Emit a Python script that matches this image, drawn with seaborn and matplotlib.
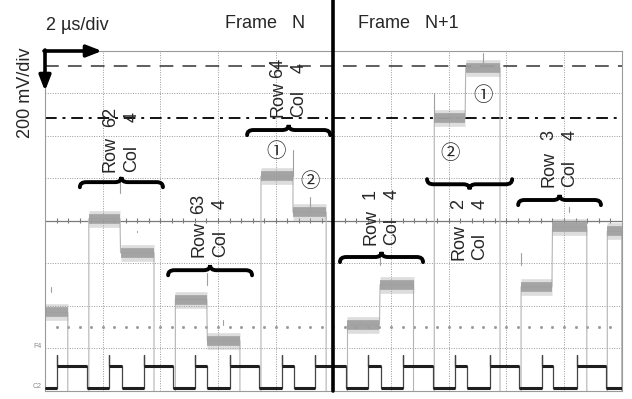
import numpy as np
import pandas as pd
import matplotlib
matplotlib.use('Agg')
import matplotlib.pyplot as plt
from matplotlib.path import Path
from matplotlib.patches import PathPatch
import seaborn as sns

# scope: 2 us/div, 200 mV/div, 10 x 8 divisions
t_max = 20.0
v_max = 800.0

# gray trace (F4): flat steps, times in us, levels in mV
seg_start = [0.00, 1.52, 2.62, 4.52, 5.63, 7.49, 8.60, 10.49, 11.62, 13.50, 14.59, 16.51, 17.60, 19.50]
seg_end = [0.79, 2.60, 3.78, 5.61, 6.76, 8.60, 9.75, 11.60, 12.78, 14.57, 15.78, 17.58, 18.79, 20.00]
seg_level = [-430, 10, -150, -370, -565, 210, 40, -490, -300, 485, 720, -310, -30, -50]

# short spikes on the gray trace
spike_t = [0.21, 2.60, 3.20, 5.61, 6.18, 8.61, 9.19, 11.62, 13.50, 15.19, 16.51, 18.16]
spike_v = [-334, 129, -51, -247, -467, 333, 113, -208, 600, 790, -208, 66]

# black trace (C2): clock edges in us, levels in mV
clk_rise = [0.43, 2.23, 3.43, 5.20, 6.42, 8.21, 9.37, 11.21, 12.43, 14.22, 15.44, 17.23, 18.44]
clk_fall = [1.47, 2.66, 4.45, 5.63, 7.43, 8.64, 10.44, 11.65, 13.47, 14.63, 16.45, 17.63, 19.45]
clk_low = -786
clk_high = -682
clk_peak = -632

# reference lines (mV)
ref_dash = 730
ref_dashdot = 484
ref_dots = -500

# braces and their Row/Col labels
brace_x0 = [1.21, 4.27, 7.01, 10.23, 13.25, 16.41]
brace_x1 = [4.09, 7.18, 9.89, 13.11, 16.20, 19.28]
brace_y = [182, -232, 427, -170, 172, 98]
brace_up = [True, True, True, True, False, True]
row_nums = ['62', '63', '64', '1', '2', '3']
col_nums = ['4', '4', '4', '4', '4', '4']
word_y = [231, -170, 490, -114, -184, 159]
num_y = [488, 79, 721, 126, 79, 404]

circ_text = ['\u2460', '\u2461', '\u2460', '\u2461']
circ_t = [8.01, 9.19, 15.20, 14.05]
circ_v = [325, 184, 589, 318]

sns.set_style('white')
plt.rcParams['font.family'] = ['Liberation Sans', 'Noto Sans CJK JP', 'DejaVu Sans']

W, H = 632, 399
fig = plt.figure(figsize=(W / 100, H / 100), dpi=100)
ax = fig.add_axes([45 / W, 8 / H, 576.7 / W, 340.3 / H])
ax.set_xlim(0, t_max)
ax.set_ylim(-v_max, v_max)
ax.set_xticks([])
ax.set_yticks([])
for s in ax.spines.values():
    s.set_color('#9a9a9a')
    s.set_linewidth(0.8)

# graticule
for k in range(1, 10):
    ax.axvline(k * 2, color='#9a9a9a', lw=0.7, ls=(0, (1, 1.5)), zorder=0)
for v in [-600, -400, -200, 200, 400, 600]:
    ax.axhline(v, color='#9a9a9a', lw=0.7, ls=(0, (1, 1.5)), zorder=0)
ax.axhline(0, color='#7a7a7a', lw=0.9, zorder=0)
ticks = np.arange(0.4, t_max, 0.4)
ax.vlines(ticks, -12, 12, color='#7a7a7a', lw=0.8, zorder=0)
ax.plot(ticks, np.full_like(ticks, ref_dots), ls='none', marker='s', ms=1.0,
        color='#999999', zorder=0)

ax.axhline(ref_dash, color='#333333', lw=1.1, ls=(0, (9, 6)), zorder=1)
ax.axhline(ref_dashdot, color='#111111', lw=1.4, ls=(0, (6, 3, 1.5, 3)), zorder=1)

# gray trace path
off = -1100
gt, gv = [], []
for i in range(len(seg_start)):
    joined = i > 0 and seg_start[i] - seg_end[i - 1] < 0.1
    if not joined:
        gt.append(seg_start[i]); gv.append(off)
    gt += [seg_start[i], seg_end[i]]
    gv += [seg_level[i], seg_level[i]]
    nxt = i + 1 < len(seg_start) and seg_start[i + 1] - seg_end[i] < 0.1
    if not nxt:
        gt.append(seg_end[i]); gv.append(off)
gray = pd.DataFrame({'t': gt, 'v': gv})
sns.lineplot(data=gray, x='t', y='v', sort=False, estimator=None, ax=ax,
             color='#b4b4b4', lw=0.8, legend=False, zorder=2)
for a, b, v in zip(seg_start, seg_end, seg_level):
    ax.plot([a, b], [v, v], color='#ababab', lw=12, alpha=0.4,
            solid_capstyle='butt', zorder=2)
    ax.plot([a, b], [v, v], color='#9e9e9e', lw=7, alpha=0.9,
            solid_capstyle='butt', zorder=2)
for t, v in zip(spike_t, spike_v):
    base = min(seg_level, key=lambda L: abs(L - v))
    ax.plot([t, t], [base, v], color='#a0a0a0', lw=0.8, zorder=2)

# black clock trace
ct, cv = [0.0], [clk_low]
for r, f in zip(clk_rise, clk_fall):
    ct += [r, r, r, f, f]
    cv += [clk_low, clk_peak, clk_high, clk_high, clk_low]
ct.append(t_max); cv.append(clk_low)
clk = pd.DataFrame({'t': ct, 'v': cv})
sns.lineplot(data=clk, x='t', y='v', sort=False, estimator=None, ax=ax,
             color='#444444', lw=0.9, legend=False, zorder=3)
lows_a = [0.0] + clk_fall
lows_b = clk_rise + [t_max]
ax.hlines([clk_high] * len(clk_rise), clk_rise, clk_fall, color='#1e1e1e', lw=2.2, zorder=3)
ax.hlines([clk_low] * len(lows_a), lows_a, lows_b, color='#1e1e1e', lw=2.2, zorder=3)
ax.set_xlabel('')
ax.set_ylabel('')


def brace(x0, x1, y, up, h=24, e=0.22):
    s = 1 if up else -1
    xm = (x0 + x1) / 2
    verts = [(x0, y - s * h), (x0, y), (x0 + e, y), (xm - e, y),
             (xm, y), (xm, y + s * h), (xm, y), (xm + e, y),
             (x1 - e, y), (x1, y), (x1, y - s * h)]
    codes = [Path.MOVETO, Path.CURVE3, Path.CURVE3, Path.LINETO,
             Path.CURVE3, Path.CURVE3, Path.CURVE3, Path.CURVE3,
             Path.LINETO, Path.CURVE3, Path.CURVE3]
    ax.add_patch(PathPatch(Path(verts, codes), fill=False, lw=2.8,
                           color='black', capstyle='round', zorder=5))


fs = 13
for i in range(len(brace_x0)):
    brace(brace_x0[i], brace_x1[i], brace_y[i], brace_up[i])
    xc = (brace_x0[i] + brace_x1[i]) / 2
    for dx, word, num in [(-0.38, 'Row', row_nums[i]), (0.36, 'Col', col_nums[i])]:
        ax.text(xc + dx, word_y[i], word, rotation=90, ha='center', va='bottom',
                fontsize=fs, zorder=6)
        ax.text(xc + dx, num_y[i], num, rotation=90, ha='center', va='center',
                fontsize=fs, zorder=6)

for s, t, v in zip(circ_text, circ_t, circ_v):
    ax.text(t, v, s, ha='center', va='center', fontsize=14, zorder=6)

# frame divider
ax.plot([10, 10], [-v_max, v_max + 50.7 / 42.5 * 200], color='black', lw=2.6,
        clip_on=False, zorder=7)

# header texts
fig.text(46 / W, 1 - 25 / H, '2 \u00b5s/div', fontsize=fs, va='center', ha='left')
fig.text(225 / W, 1 - 23 / H, 'Frame   N', fontsize=fs, va='center', ha='left')
fig.text(358 / W, 1 - 23 / H, 'Frame   N+1', fontsize=fs, va='center', ha='left')
fig.text(26 / W, 1 - 93 / H, '200 mV/div', fontsize=fs, va='center', ha='center',
         rotation=90)

# scale arrows
arrow = dict(arrowstyle='-|>,head_length=0.9,head_width=0.35', lw=2.6, color='black',
             shrinkA=0, shrinkB=0)
ax.annotate('', xy=(102 / W, 1 - 51 / H), xytext=(44 / W, 1 - 51 / H),
            xycoords='figure fraction', textcoords='figure fraction', arrowprops=arrow)
ax.annotate('', xy=(45 / W, 1 - 91 / H), xytext=(45 / W, 1 - 50 / H),
            xycoords='figure fraction', textcoords='figure fraction', arrowprops=arrow)

# channel markers
fig.text(37 / W, 1 - 347 / H, 'F4', fontsize=5, color='#8a8a8a', va='center', ha='center')
fig.text(37 / W, 1 - 386 / H, 'C2', fontsize=5, color='#8a8a8a', va='center', ha='center')

fig.savefig('out.png', dpi=100)
